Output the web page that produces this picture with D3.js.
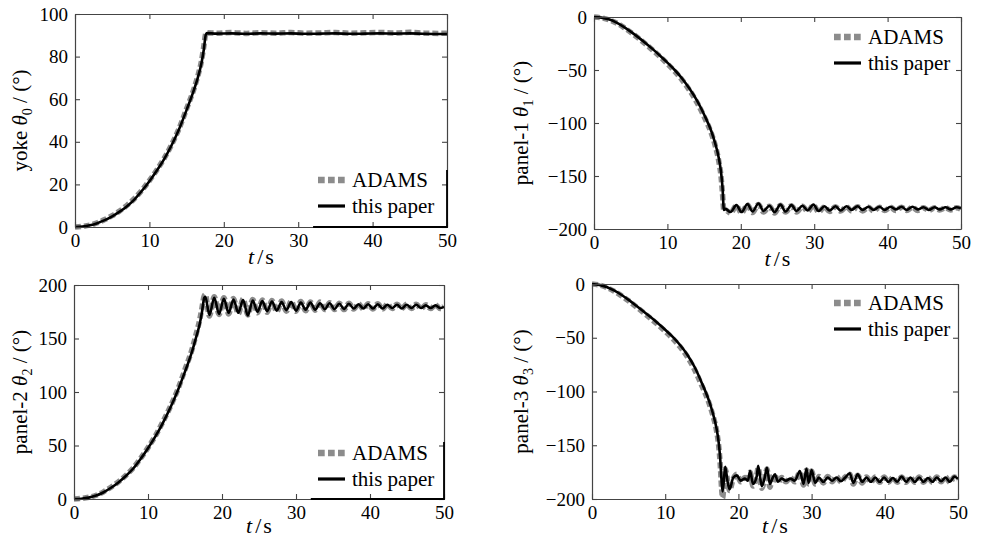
<!DOCTYPE html>
<html>
<head>
<meta charset="utf-8">
<script src="https://cdn.jsdelivr.net/npm/d3@7"></script>
<style>
  body { margin: 0; background: #fff; }
  svg { display: block; }
</style>
</head>
<body>
<svg id="chart" width="982" height="539"></svg>
<script>
// ---- data (t in s, angles in degrees) ----
const riseTimeA = [0,1,2,3,4,5,6,7,8,9,10,11,12,13,14,15,16,16.5,17,17.3,17.6];
const riseTimeB = [0,1,2,3,4,5,6,7,8,9,10,11,12,13,14,15,16,16.5,17,17.3,17.5,17.7];

// yoke theta0
const yokeTailTime = [17.75,19,21,23,25,27,29,31,33,35,37,39,41,43,45,47,49,50];
const yokePaperRise = [0,0.2,0.8,1.8,3.2,5,7.2,9.8,13,17,21.5,26.5,32,38.5,46,55,64.5,70,77,83,90.5];
const yokePaperTail = [91,90.8,90.9,90.7,90.9,90.8,90.9,90.7,90.8,90.9,90.7,90.8,90.9,90.8,90.9,90.7,90.6,90.6];
const yokeAdamsRise = [0,0.3,0.9,2,3.5,5.3,7.5,10.2,13.4,17.3,21.8,26.8,32.3,38.8,46.3,55.5,65,70.8,78,84.5,91];
const yokeAdamsTail = [91.2,91,91.3,90.9,91.2,91,91.3,91,91.1,91.3,91,91.2,91.3,91.1,91.4,91,90.9,91];

// panel-1 theta1
const p1TailTime = [17.9,18.6,19.4,20.1,20.9,21.6,22.4,23.1,23.9,24.6,25.4,26.1,26.9,27.6,28.4,29.1,29.9,30.6,31.4,32.1,32.9,33.6,34.4,35.1,35.9,36.6,37.4,38.1,38.9,39.6,40.4,41.1,41.9,42.6,43.4,44.1,44.9,45.6,46.4,47.1,47.9,48.6,49.4,50];
const p1PaperRise = [0,-0.6,-2.2,-5,-9,-13.8,-19,-24.5,-30.3,-36.5,-43,-50,-58,-67.5,-78.5,-92,-108,-119,-133,-146,-160,-182];
const p1PaperTail = [-181,-184,-177.5,-184,-176.5,-183.5,-176,-183,-178,-184,-177,-183.5,-177.5,-183,-178,-182.5,-177,-183,-178.5,-182.5,-178.5,-182.5,-178.5,-182,-178.5,-182,-179,-182,-179,-182,-179,-181.5,-179,-182,-179,-181.5,-179.5,-182,-179.5,-181.5,-179.5,-181.5,-179.5,-180.5];
const p1AdamsRise = [0,-0.8,-2.6,-5.5,-9.5,-14.4,-19.7,-25.3,-31.2,-37.5,-44.2,-51.3,-59.4,-69,-80.3,-94,-110,-121,-136,-150,-166,-183];
const p1AdamsTail = [-182,-185,-178,-185,-177,-184.5,-177,-184,-178.5,-185,-177.5,-184,-178,-184,-178.5,-183.5,-177.5,-184,-179,-183.5,-179,-183,-179,-183,-179,-183,-179.5,-183,-179.5,-182.5,-179.5,-182.5,-179.5,-182.5,-179.5,-182.5,-180,-182.5,-180,-182,-180,-182,-180,-181.5];

// panel-2 theta2
const p2TailTime = [17.75,18.3,18.95,19.6,20.25,20.9,21.55,22.2,22.85,23.5,24.15,24.8,25.45,26.1,26.75,27.4,28.05,28.7,29.35,30,30.65,31.3,31.95,32.6,33.25,33.9,34.55,35.2,35.85,36.5,37.15,37.8,38.45,39.1,39.75,40.4,41.05,41.7,42.35,43,43.65,44.3,44.95,45.6,46.25,46.9,47.55,48.2,48.85,49.5,50];
const p2PaperRise = [0,0.3,1.3,3.2,6.3,10.5,15.5,21.5,28.5,37.5,47.5,58.5,71,85,101,119,139,151,164,175,188];
const p2PaperTail = [189,172,188,173,187,174,186.5,174,186,171.5,185.5,175,185,175.5,184.5,176,184,176.5,184,176,183.5,177,183.5,177,183,177.5,183,177.5,182.5,177.5,182.5,178,182,178,182,178,182,178,181.5,178.5,181.5,178,181.5,178.5,181.5,178.5,181,178.5,181,178.5,179.5];
const p2AdamsRise = [0,0.5,1.6,3.5,6.7,11,16,22,29,38,48,59,72,86,102,121,141,154,168,179,190];
const p2AdamsTail = [191,171,189,172.5,188,173,187.5,173,187,172,186.5,174,186,174.5,185.5,175,185,175.5,185,175.5,184.5,176,184,176.5,184,177,183.5,177,183,177,183,177.5,182.5,177.5,182.5,177.5,182.5,177.5,182,178,182,178,182,178,182,178,181.5,178,181.5,178,180];

// panel-3 theta3
const p3TailTime = [17.85,18.2,18.5,18.8,19.3,19.8,20.3,20.9,21.3,21.6,22,22.5,22.7,23.2,23.6,23.9,24.3,24.7,25,25.4,25.9,26.5,27.1,27.7,28.4,28.9,29.3,29.6,30,30.5,31,31.6,32.2,32.8,33.4,34,34.6,35.2,35.7,36.3,36.9,37.5,38.1,38.7,39.3,39.9,40.5,41.1,41.7,42.3,42.9,43.5,44.1,44.7,45.3,45.9,46.5,47.1,47.7,48.3,48.9,49.5,50];
const p3PaperRise = [0,-0.8,-2.8,-6,-10,-14.8,-20,-25.3,-30.8,-36.5,-42.5,-49,-56.5,-65.5,-77,-92,-109,-120,-134,-147,-161,-183];
const p3PaperTail = [-193,-170,-183,-191,-180,-178,-183,-181,-183,-174,-186,-179,-169,-188,-180,-171,-186,-180,-177,-184,-181,-183,-181,-183,-174,-186,-172,-185,-173,-185,-180,-184,-180,-183,-180,-183.5,-180,-176,-185,-177,-184,-180,-184,-180,-184,-180,-184,-180.5,-184,-179,-184,-180,-184,-180,-184,-180.5,-184,-180,-183.5,-180,-184,-179,-181.5];
const p3AdamsRise = [0,-1,-3.2,-6.6,-10.8,-15.6,-21,-26.4,-32,-37.8,-44,-50.6,-58.2,-67.5,-79.5,-94.5,-111,-122,-136,-150,-166,-190];
const p3AdamsTail = [-199,-172,-182,-192,-181,-177,-184,-180,-184,-175,-188,-178,-171,-190,-181,-172,-189,-179,-178,-185,-180,-184,-180,-184,-175,-187,-173,-186,-174,-186,-179,-185,-179,-184,-179,-184,-179.5,-177,-186,-178,-185,-179.5,-184.5,-179.5,-184.5,-179.5,-184.5,-180,-184.5,-179.5,-184.5,-179.5,-184.5,-179.5,-184.5,-180,-184.5,-179.5,-184,-179.5,-184.5,-179.5,-182];

const xTicks = [0,10,20,30,40,50];
const posTicks100 = [0,20,40,60,80,100];
const posTicks200 = [0,50,100,150,200];
const negTicks200 = [-200,-150,-100,-50,0];
const legendNames = ["ADAMS","this paper"];

// ---- panels ----
const panels = [
  { label: ["yoke ", "0"], box: [75, 447, 14, 227], yDom: [0, 100], yTicks: posTicks100,
    time: riseTimeA.concat(yokeTailTime),
    adams: yokeAdamsRise.concat(yokeAdamsTail), paper: yokePaperRise.concat(yokePaperTail),
    legend: [318, 180], legendBox: true },
  { label: ["panel-1 ", "1"], box: [594, 961, 17, 229], yDom: [-200, 0], yTicks: negTicks200,
    time: riseTimeB.concat(p1TailTime),
    adams: p1AdamsRise.concat(p1AdamsTail), paper: p1PaperRise.concat(p1PaperTail),
    legend: [834, 37], legendBox: false },
  { label: ["panel-2 ", "2"], box: [74, 444, 285, 499], yDom: [0, 200], yTicks: posTicks200,
    time: riseTimeA.concat(p2TailTime),
    adams: p2AdamsRise.concat(p2AdamsTail), paper: p2PaperRise.concat(p2PaperTail),
    legend: [318, 453], legendBox: true },
  { label: ["panel-3 ", "3"], box: [592, 958, 284, 499], yDom: [-200, 0], yTicks: negTicks200,
    time: riseTimeB.concat(p3TailTime),
    adams: p3AdamsRise.concat(p3AdamsTail), paper: p3PaperRise.concat(p3PaperTail),
    legend: [834, 303], legendBox: false }
];

const FONT = "'Liberation Serif', 'DejaVu Serif', 'Times New Roman', serif";
const svg = d3.select("#chart");
const axisColor = "#444";
const fmt = v => v < 0 ? "\u2212" + Math.abs(v) : String(v);

panels.forEach((p, i) => {
  const [x0, x1, y0, y1] = p.box;
  const x = d3.scaleLinear().domain([0, 50]).range([x0, x1]);
  const y = d3.scaleLinear().domain(p.yDom).range([y1, y0]);

  svg.append("clipPath").attr("id", "clip" + i)
    .append("rect").attr("x", x0).attr("y", y0 - 4).attr("width", x1 - x0).attr("height", y1 - y0 + 8);

  const pts = (vals) => p.time.map((t, k) => [t, vals[k]]);
  const line = d3.line().x(d => x(d[0])).y(d => y(d[1])).curve(d3.curveMonotoneX);

  const g = svg.append("g").attr("clip-path", `url(#clip${i})`);
  g.append("path").attr("d", line(pts(p.adams)))
    .attr("fill", "none").attr("stroke", "#8c8c8c").attr("stroke-width", 5.5)
    .attr("stroke-dasharray", "6,3");
  g.append("path").attr("d", line(pts(p.paper)))
    .attr("fill", "none").attr("stroke", "#000").attr("stroke-width", 2.6)
    .attr("stroke-linejoin", "round");

  // axes, ticks pointing inward
  const styleAxis = sel => {
    sel.attr("font-family", FONT).attr("font-size", 19);
    sel.select(".domain").attr("stroke", axisColor).attr("stroke-width", 1.2);
    sel.selectAll(".tick line").attr("stroke", axisColor).attr("stroke-width", 1.1);
    sel.selectAll(".tick text").attr("fill", "#000");
  };
  svg.append("g").attr("transform", `translate(0,${y1})`)
    .call(d3.axisBottom(x).tickValues(xTicks).tickSize(-5).tickSizeOuter(0).tickPadding(7))
    .call(styleAxis);
  svg.append("g").attr("transform", `translate(0,${y0})`)
    .call(d3.axisTop(x).tickValues(xTicks).tickSize(-5).tickSizeOuter(0).tickFormat(""))
    .call(styleAxis);
  svg.append("g").attr("transform", `translate(${x0},0)`)
    .call(d3.axisLeft(y).tickValues(p.yTicks).tickSize(-5).tickSizeOuter(0).tickPadding(7).tickFormat(fmt))
    .call(styleAxis);
  svg.append("g").attr("transform", `translate(${x1},0)`)
    .call(d3.axisRight(y).tickValues(p.yTicks).tickSize(-5).tickSizeOuter(0).tickFormat(""))
    .call(styleAxis);

  // legend frame edges that sit on the axes
  if (p.legendBox) {
    svg.append("path")
      .attr("d", `M${x(32)},${y1}H${x1}V${y1 - 57}`)
      .attr("fill", "none").attr("stroke", "#000").attr("stroke-width", 1.8);
  }

  // x label  t/s
  const xl = svg.append("text")
    .attr("x", (x0 + x1) / 2).attr("y", y1 + (i < 2 ? 37 : 34))
    .attr("text-anchor", "middle").attr("font-family", FONT).attr("font-size", 22);
  xl.append("tspan").attr("font-style", "italic").text("t");
  xl.append("tspan").attr("dx", 3).text("/");
  xl.append("tspan").attr("dx", 2).text("s");

  // y label
  const lx = i % 2 === 0 ? 27 : 528;
  const yl = svg.append("text")
    .attr("transform", `translate(${lx},${(y0 + y1) / 2}) rotate(-90)`)
    .attr("text-anchor", "middle").attr("font-family", FONT).attr("font-size", 21);
  yl.append("tspan").text(p.label[0]);
  yl.append("tspan").attr("font-style", "italic").text("\u03b8");
  yl.append("tspan").attr("dy", 5).attr("font-size", 14).text(p.label[1]);
  yl.append("tspan").attr("dy", -5).text(" / (\u00b0)");

  // legend
  const [lx0, ly0] = p.legend;
  const lg = svg.append("g");
  legendNames.forEach((name, k) => {
    const ly = ly0 + k * 26;
    lg.append("line").attr("x1", lx0).attr("x2", lx0 + 27).attr("y1", ly).attr("y2", ly)
      .attr("stroke", k === 0 ? "#8c8c8c" : "#000")
      .attr("stroke-width", k === 0 ? 6.5 : 3.2)
      .attr("stroke-dasharray", k === 0 ? "6.7,3.3" : null);
    lg.append("text").attr("x", lx0 + 34).attr("y", ly).attr("dy", "0.35em")
      .attr("font-family", FONT).attr("font-size", 21).text(name);
  });
});
</script>
</body>
</html>
